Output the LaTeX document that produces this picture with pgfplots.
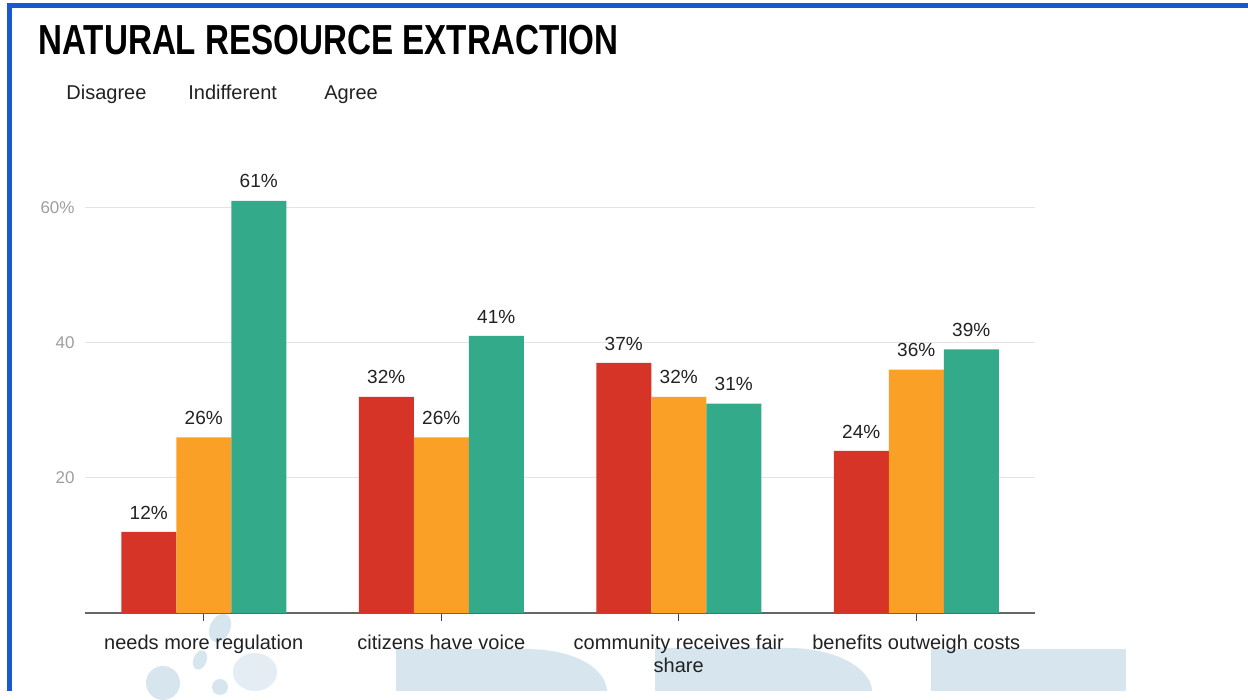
\documentclass[border=0pt]{standalone}
\usepackage{pgfplots}
\pgfplotsset{compat=1.18}
\usepackage{fontspec}
\setmainfont{Liberation Sans}

\definecolor{disagree}{HTML}{D63427}
\definecolor{indifferent}{HTML}{FBA026}
\definecolor{agree}{HTML}{33AA8A}
\definecolor{frameblue}{HTML}{1A58CF}
\definecolor{wmark}{HTML}{D7E6EE}
\definecolor{axisgray}{HTML}{666666}
\definecolor{tickgray}{HTML}{444444}
\definecolor{gridgray}{HTML}{E4E4E4}
\definecolor{labelgray}{HTML}{9E9E9E}
\definecolor{textdark}{HTML}{222222}

\begin{document}
\begin{tikzpicture}
  % page background
  \fill[white] (0,0) rectangle (624pt,345.5pt);

  % faint watermark at the bottom
  \fill[wmark] (465.5pt,0) rectangle (563pt,21pt);
  \fill[wmark] (198pt,0) -- (198pt,21pt) -- (262pt,21pt)
    .. controls (290pt,21pt) and (303pt,10pt) .. (303.5pt,0) -- cycle;
  \fill[wmark] (327.5pt,0) -- (327.5pt,21.5pt) -- (394pt,21.5pt)
    .. controls (420pt,21.5pt) and (436pt,10pt) .. (436pt,0) -- cycle;
  \fill[wmark] (110pt,31.5pt) ellipse[x radius=5pt, y radius=7.5pt, rotate=-25];
  \fill[wmark] (100pt,15.5pt) ellipse[x radius=3.3pt, y radius=5pt, rotate=-20];
  \fill[wmark] (81.5pt,4pt) circle[radius=8.5pt];
  \fill[wmark!70!white] (127.5pt,9.5pt) ellipse[x radius=11pt, y radius=9.5pt];
  \fill[wmark] (110pt,2pt) circle[radius=4pt];

  % blue frame of the page
  \fill[frameblue] (3.5pt,0) rectangle (6pt,344pt);
  \fill[frameblue] (3.5pt,341.5pt) rectangle (624pt,344pt);

  % title and legend text
  \node[anchor=base west, inner sep=0, font=\bfseries\fontsize{21}{21}\selectfont]
    at (19pt,318pt) {\scalebox{0.79}[1]{NATURAL RESOURCE EXTRACTION}};
  \node[anchor=base west, inner sep=0, font=\fontsize{10}{12}\selectfont, text=textdark]
    at (33pt,295.5pt) {Disagree};
  \node[anchor=base west, inner sep=0, font=\fontsize{10}{12}\selectfont, text=textdark]
    at (94pt,295.5pt) {Indifferent};
  \node[anchor=base west, inner sep=0, font=\fontsize{10}{12}\selectfont, text=textdark]
    at (162pt,295.5pt) {Agree};

  \begin{axis}[
    at={(42.5pt,39pt)}, anchor=south west,
    scale only axis, width=475pt, height=223pt,
    ybar=0pt, bar width=27.5pt,
    xmin=-0.5, xmax=3.5, ymin=0, ymax=66,
    xtick={0,1,2,3},
    xticklabels={needs more regulation, citizens have voice,
      {community receives fair\\share}, benefits outweigh costs},
    ytick={20,40,60}, yticklabels={20,40,60\%},
    axis x line=bottom, axis y line=left,
    axis line style={-},
    y axis line style={draw=none},
    x axis line style={draw=axisgray, line width=1pt},
    ymajorgrids, grid style={gridgray, line width=0.6pt},
    tick align=outside, major tick length=4pt,
    xtick style={draw=tickgray, line width=0.6pt},
    ytick style={draw=none},
    yticklabel style={font=\fontsize{8.5}{10}\selectfont, text=labelgray, xshift=2.3pt},
    xticklabel style={font=\fontsize{10}{11.5}\selectfont, text=textdark, align=center, yshift=-3.5pt},
    nodes near coords={\pgfmathprintnumber{\pgfplotspointmeta}\%},
    nodes near coords style={font=\fontsize{9.5}{11}\selectfont, text=textdark, yshift=2.8pt},
    /pgf/number format/assume math mode=true,
    clip=false,
  ]
    \addplot[fill=disagree, draw=none] coordinates {(0,12) (1,32) (2,37) (3,24)};
    \addplot[fill=indifferent, draw=none] coordinates {(0,26) (1,26) (2,32) (3,36)};
    \addplot[fill=agree, draw=none] coordinates {(0,61) (1,41) (2,31) (3,39)};
  \end{axis}
\end{tikzpicture}
\end{document}
